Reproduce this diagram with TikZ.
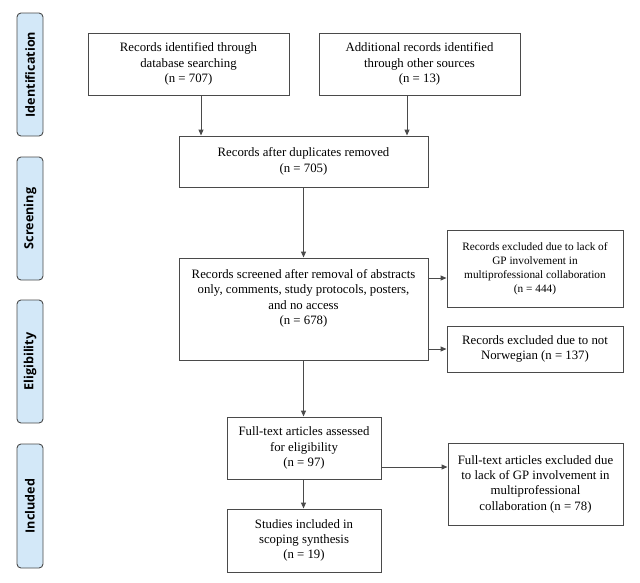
\documentclass[tikz,border=0pt]{standalone}
\usepackage{fontspec}
\setmainfont{Liberation Serif}
\newfontfamily\sidefont{Open Sans}
\usetikzlibrary{arrows.meta,positioning,calc}
\definecolor{sideblue}{HTML}{D3E8F8}
\definecolor{linegray}{HTML}{4A4A4A}
\begin{document}
\begin{tikzpicture}[x=1pt,y=-1pt,
  box/.style={draw=linegray,line width=1pt,align=center,inner sep=2pt,
    font=\fontsize{12.8}{15.3}\selectfont},
  smallbox/.style={box,font=\fontsize{11.3}{14}\selectfont},
  side/.style={draw=linegray,line width=0.9pt,fill=sideblue,rounded corners=4pt,
    rotate=90,minimum height=26pt,inner sep=0pt,
    font=\sidefont\bfseries\fontsize{12.6}{14}\selectfont},
  arr/.style={draw=linegray,line width=1pt,-{Triangle[width=5pt,length=6pt]}}]
\useasboundingbox (0,0) rectangle (640,582);

% side labels
\node[side,minimum width=123pt] (sid) at (30,74.5) {Identification};
\node[side,minimum width=123pt] (ssc) at (30,218.5) {Screening};
\node[side,minimum width=123pt] (sel) at (30,361.5) {Eligibility};
\node[side,minimum width=124pt] (sin) at (30,506) {Included};

% boxes
\node[box,minimum width=201pt,minimum height=62pt] (db) at (188.5,64)
  {Records identified through\\database searching\\(n = 707)};
\node[box,minimum width=201pt,minimum height=62pt] (oth) at (419.5,64)
  {Additional records identified\\through other sources\\(n = 13)};
\node[box,minimum width=249pt,minimum height=51pt] (dup) at (303.5,161.5)
  {Records after duplicates removed\\(n = 705)};
\node[box,minimum width=249pt,minimum height=102pt] (scr) at (303.5,309)
  {Records screened after removal of abstracts\\only, comments, study protocols, posters,\\and no access\\(n = 678)\\[9pt]\mbox{}};
\node[smallbox,minimum width=176pt,minimum height=77pt] (ex1) at (535,268.5)
  {Records excluded due to lack of\\GP involvement in\\multiprofessional collaboration\\(n = 444)};
\node[box,minimum width=176pt,minimum height=46pt] (ex2) at (535,349)
  {Records excluded due to not\\Norwegian (n = 137)};
\node[box,minimum width=154pt,minimum height=62pt] (ft) at (304,448)
  {Full-text articles assessed\\for eligibility\\(n = 97)};
\node[box,minimum width=154pt,minimum height=63pt] (inc) at (304,540.5)
  {Studies included in\\scoping synthesis\\(n = 19)};
\node[box,minimum width=175pt,minimum height=82pt] (ex3) at (535.5,484)
  {Full-text articles excluded due\\to lack of GP involvement in\\multiprofessional\\collaboration (n = 78)};

% connectors
\coordinate (a1) at ($(db.south)+(12.5,0)$);
\coordinate (a2) at ($(oth.south)+(-12.5,0)$);
\coordinate (b1) at ($(scr.east)+(0,-31)$);
\coordinate (b2) at ($(scr.east)+(0,40)$);
\coordinate (c1) at ($(ft.east)+(0,19)$);
\draw[arr] (a1) -- (a1 |- dup.north);
\draw[arr] (a2) -- (a2 |- dup.north);
\draw[arr] (dup.south) -- (scr.north);
\draw[arr] (b1) -- (b1 -| ex1.west);
\draw[arr] (b2) -- (b2 -| ex2.west);
\draw[arr] (scr.south) -- (scr.south |- ft.north);
\draw[arr] (ft.south -| scr.south) -- (scr.south |- inc.north);
\draw[arr] (c1) -- (c1 -| ex3.west);
\end{tikzpicture}
\end{document}
